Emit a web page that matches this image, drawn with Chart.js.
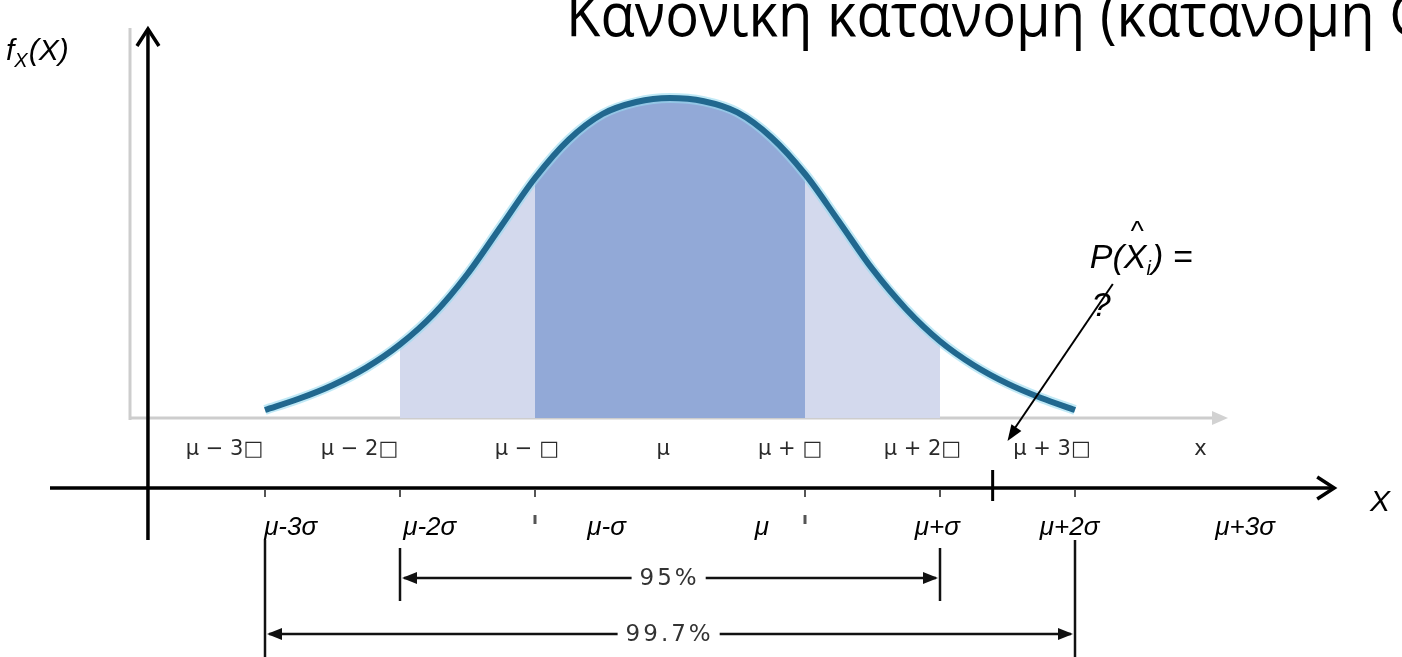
<!DOCTYPE html>
<html lang="el">
<head>
<meta charset="UTF-8">
<title>Κανονική κατανομή</title>
<script src="https://cdn.jsdelivr.net/npm/chart.js@4.4.1/dist/chart.umd.min.js"></script>
<style>
    html, body { margin: 0; padding: 0; background: #fff; overflow: hidden; }
    #wrap { position: relative; width: 1402px; height: 657px; }
</style>
</head>
<body>
<div id="wrap"><canvas id="gauss" width="1402" height="657"></canvas></div>
<script>
// Σημεία της καμπύλης: θέση σε μονάδες σ γύρω από το μ και πυκνότητα
const sigmaSteps = [-3, -2.75, -2.5, -2.25, -2, -1.75, -1.5, -1.25, -1, -0.75, -0.5, -0.25, 0,
                    0.25, 0.5, 0.75, 1, 1.25, 1.5, 1.75, 2, 2.25, 2.5, 2.75, 3];
const density = [0.010, 0.024, 0.041, 0.063, 0.092, 0.130, 0.180, 0.240, 0.300, 0.348, 0.380, 0.395, 0.400,
                 0.396, 0.382, 0.351, 0.305, 0.246, 0.186, 0.136, 0.096, 0.066, 0.043, 0.025, 0.010];

// Σκιασμένες ζώνες (±σ και ±2σ)
const innerBand = [-1, 1];
const outerBand = [-2, 2];

// Κείμενα
const titleText = 'Κανονική κατανομή (κατανομή Gauss)';
const pictureLabels = ['μ − 3□', 'μ − 2□', 'μ − □', 'μ', 'μ + □', 'μ + 2□', 'μ + 3□', 'x'];
const axisLabels = ['μ-3σ', 'μ-2σ', 'μ-σ', 'μ', 'μ+σ', 'μ+2σ', 'μ+3σ'];
const spanLabels = ['95%', '99.7%'];

// Θέσεις των ετικετών πάνω στον άξονα x (σε μονάδες σ)
const pictureLabelPos = [-3.3, -2.3, -1.06, -0.05, 0.89, 1.87, 2.83, 3.93];
const axisLabelPos = [-2.81, -1.78, -0.47, 0.68, 1.98, 2.96, 4.26];

const curvePoints = sigmaSteps.map((s, i) => ({ x: s, y: density[i] }));

function band(range) {
    return curvePoints.filter(p => p.x >= range[0] && p.x <= range[1]);
}

function line(ctx, x1, y1, x2, y2) {
    ctx.beginPath();
    ctx.moveTo(x1, y1);
    ctx.lineTo(x2, y2);
    ctx.stroke();
}

// Γεμάτη αιχμή βέλους στο (tx, ty), με κατεύθυνση από το (fx, fy)
function arrowHead(ctx, tx, ty, fx, fy, len, half) {
    const a = Math.atan2(ty - fy, tx - fx);
    ctx.beginPath();
    ctx.moveTo(tx, ty);
    ctx.lineTo(tx - len * Math.cos(a) + half * Math.sin(a), ty - len * Math.sin(a) - half * Math.cos(a));
    ctx.lineTo(tx - len * Math.cos(a) - half * Math.sin(a), ty - len * Math.sin(a) + half * Math.cos(a));
    ctx.closePath();
    ctx.fill();
}

// Οριζόντιο βέλος διαστήματος με ετικέτα στη μέση
function spanArrow(ctx, x1, x2, cx, y, label) {
    ctx.font = '23px "DejaVu Sans"';
    ctx.letterSpacing = '3px';
    const gap = ctx.measureText(label).width / 2 + 7;
    ctx.strokeStyle = '#111';
    ctx.lineWidth = 2.5;
    line(ctx, x1 + 4, y, cx - gap, y);
    line(ctx, cx + gap, y, x2 - 4, y);
    ctx.fillStyle = '#111';
    arrowHead(ctx, x1 + 2, y, x1 + 20, y, 15, 6);
    arrowHead(ctx, x2 - 2, y, x2 - 20, y, 15, 6);
    ctx.fillStyle = '#333';
    ctx.textAlign = 'center';
    ctx.textBaseline = 'middle';
    ctx.fillText(label, cx + 1, y + 1);
    ctx.letterSpacing = '0px';
}

const slideDecor = {
    id: 'slideDecor',
    beforeDatasetsDraw(chart) {
        const ctx = chart.ctx;
        const area = chart.chartArea;
        const px = v => chart.scales.x.getPixelForValue(v);
        ctx.save();

        // γκρι άξονες του διαγράμματος
        ctx.strokeStyle = '#cdcdcd';
        ctx.lineWidth = 3;
        line(ctx, area.left, area.top, area.left, area.bottom + 2);
        line(ctx, area.left, area.bottom, area.right + 3, area.bottom);
        ctx.fillStyle = '#d2d2d2';
        arrowHead(ctx, area.right + 18, area.bottom, area.right, area.bottom, 16, 7);

        // ετικέτες κάτω από τον γκρι άξονα
        ctx.fillStyle = '#2a2a2a';
        ctx.font = '21px "DejaVu Sans"';
        ctx.textAlign = 'center';
        ctx.textBaseline = 'alphabetic';
        pictureLabels.forEach((t, i) => ctx.fillText(t, px(pictureLabelPos[i]), 455));
        ctx.restore();
    },
    afterDraw(chart) {
        const ctx = chart.ctx;
        const px = v => chart.scales.x.getPixelForValue(v);
        ctx.save();

        // τίτλος
        ctx.fillStyle = '#000';
        ctx.font = '60px "Open Sans"';
        ctx.textAlign = 'left';
        ctx.textBaseline = 'alphabetic';
        ctx.fillText(titleText, 566, 36, 1000);

        // f_X(X)
        ctx.font = 'italic 30px "Liberation Sans"';
        let x = 6;
        ctx.fillText('f', x, 60);
        x += ctx.measureText('f').width;
        ctx.font = 'italic 20px "Liberation Sans"';
        ctx.fillText('X', x, 67);
        x += ctx.measureText('X').width + 1;
        ctx.font = 'italic 30px "Liberation Sans"';
        ctx.fillText('(X)', x, 60);

        // μαύροι άξονες
        ctx.strokeStyle = '#000';
        ctx.lineWidth = 3.5;
        ctx.lineJoin = 'miter';
        const ax = px(-3.867);
        line(ctx, ax, 540, ax, 30);
        ctx.beginPath();
        ctx.moveTo(ax - 11, 46); ctx.lineTo(ax, 29); ctx.lineTo(ax + 11, 46);
        ctx.stroke();
        const xEnd = px(4.92);
        line(ctx, 50, 488, xEnd - 2, 488);
        ctx.beginPath();
        ctx.moveTo(xEnd - 17, 477); ctx.lineTo(xEnd, 488); ctx.lineTo(xEnd - 17, 499);
        ctx.stroke();

        // σημάδι πάνω στον άξονα
        ctx.lineWidth = 3;
        line(ctx, px(2.39), 470, px(2.39), 501);

        // μικρές υποδιαιρέσεις κάτω από τον άξονα
        ctx.strokeStyle = '#555';
        ctx.lineWidth = 2;
        [-3, -2, -1, 1, 2, 3].forEach(t => line(ctx, px(t), 490, px(t), 497));
        ctx.lineWidth = 3;
        [-1, 1].forEach(t => line(ctx, px(t), 515, px(t), 524));

        // X
        ctx.fillStyle = '#000';
        ctx.font = 'italic 30px "Liberation Sans"';
        ctx.textAlign = 'center';
        ctx.fillText('X', px(5.26), 511);

        // ετικέτες του άξονα
        ctx.font = 'italic 26px "Liberation Sans"';
        axisLabels.forEach((t, i) => ctx.fillText(t, px(axisLabelPos[i]), 535));

        // κατακόρυφες γραμμές των διαστημάτων
        ctx.strokeStyle = '#111';
        ctx.lineWidth = 2.5;
        line(ctx, px(-3), 540, px(-3), 657);
        line(ctx, px(3), 540, px(3), 657);
        line(ctx, px(-2), 548, px(-2), 601);
        line(ctx, px(2), 548, px(2), 601);

        spanArrow(ctx, px(-2), px(2), px(-0.01), 578, spanLabels[0]);
        spanArrow(ctx, px(-3), px(3), px(-0.01), 634, spanLabels[1]);

        // P(X̂i) = ?
        ctx.fillStyle = '#000';
        ctx.textAlign = 'left';
        ctx.textBaseline = 'alphabetic';
        ctx.font = 'italic 34px "Liberation Sans"';
        let px0 = px(3.11);
        ctx.fillText('P(', px0, 268);
        px0 += ctx.measureText('P(').width;
        const xw = ctx.measureText('X').width;
        ctx.fillText('X', px0, 268);
        ctx.font = 'italic 28px "Liberation Sans"';
        ctx.fillText('^', px0 + xw / 2 - 5, 240);
        px0 += xw;
        ctx.font = 'italic 20px "Liberation Sans"';
        ctx.fillText('i', px0, 275);
        px0 += ctx.measureText('i').width + 1;
        ctx.font = 'italic 34px "Liberation Sans"';
        ctx.fillText(') =', px0, 268);
        ctx.fillText('?', px(3.11) + 2, 316);

        ctx.strokeStyle = '#000';
        ctx.lineWidth = 2;
        const ay1 = 284, ay2 = 441;
        line(ctx, px(3.28), ay1, px(2.52), ay2 - 6);
        arrowHead(ctx, px(2.5), ay2, px(3.28), ay1, 16, 6);

        ctx.restore();
    }
};

document.addEventListener('DOMContentLoaded', function() {
    const ctx = document.getElementById('gauss').getContext('2d');
    const lineBase = {
        pointRadius: 0,
        cubicInterpolationMode: 'monotone',
        borderCapStyle: 'butt'
    };
    new Chart(ctx, {
        type: 'line',
        data: {
            datasets: [
                Object.assign({ data: curvePoints, borderColor: '#21688f', borderWidth: 6, fill: false, order: 0 }, lineBase),
                Object.assign({ data: curvePoints, borderColor: 'rgba(150, 218, 240, 0.6)', borderWidth: 10, fill: false, order: 1 }, lineBase),
                Object.assign({ data: band(innerBand), borderWidth: 0, backgroundColor: '#92a9d7', fill: 'origin', order: 2 }, lineBase),
                Object.assign({ data: band(outerBand), borderWidth: 0, backgroundColor: '#d3d9ed', fill: 'origin', order: 3 }, lineBase)
            ]
        },
        options: {
            responsive: false,
            animation: false,
            layout: { padding: { left: 130, right: 192, top: 28, bottom: 239 } },
            scales: {
                x: { type: 'linear', min: -4, max: 4, display: false },
                y: { min: 0, max: 0.4875, display: false }
            },
            plugins: {
                legend: { display: false },
                tooltip: { enabled: false }
            }
        },
        plugins: [slideDecor]
    });
});
</script>
</body>
</html>
